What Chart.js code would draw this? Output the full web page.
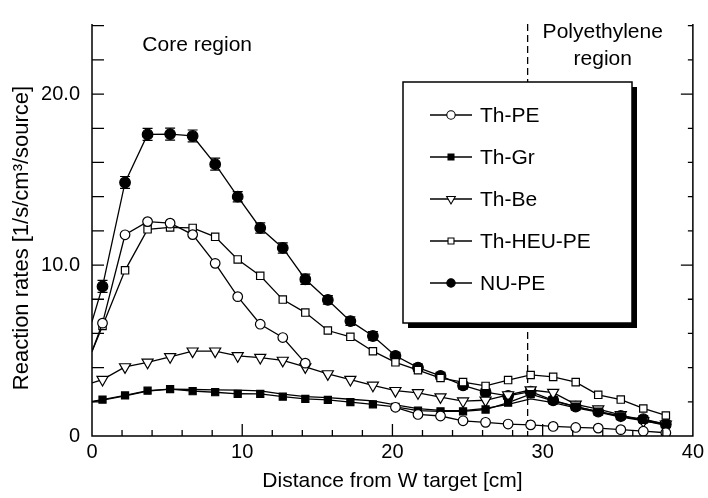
<!DOCTYPE html>
<html>
<head>
<meta charset="utf-8">
<script src="https://cdn.jsdelivr.net/npm/chart.js@4.4.1/dist/chart.umd.min.js"></script>
<style>
  html, body { margin: 0; padding: 0; background: #fff; }
  #wrap { width: 708px; height: 498px; }
</style>
</head>
<body>
<div id="wrap"><canvas id="rates" width="708" height="498"></canvas></div>
<script>
// Distance from the W target [cm]; the 0 entry is where each curve meets the axis
const distance = [0, 0.7, 2.2, 3.7, 5.2, 6.7, 8.2, 9.7, 11.2, 12.7, 14.2, 15.7, 17.2, 18.7,
    20.2, 21.7, 23.2, 24.7, 26.2, 27.7, 29.2, 30.7, 32.2, 33.7, 35.2, 36.7, 38.2];

// Reaction rates [1/s/cm3/source]
const thPE = [4.95, 6.6, 11.77, 12.54, 12.45, 11.78, 10.1, 8.15, 6.54, 5.76, 4.26, null, null, null,
    1.68, 1.26, 1.17, 0.89, 0.8, 0.7, 0.65, 0.56, 0.5, 0.46, 0.37, 0.28, 0.19];
const thGr = [2.03, 2.13, 2.37, 2.65, 2.74, 2.62, 2.56, 2.47, 2.46, 2.3, 2.17, 2.11, 1.98, 1.85,
    1.7, 1.48, 1.44, 1.44, 1.55, 1.95, 2.45, 2.05, 1.72, 1.42, 1.15, 0.95, 0.68];
const thBe = [3.1, 3.3, 4.04, 4.31, 4.63, 4.96, 4.96, 4.69, 4.59, 4.42, 4.04, 3.63, 3.3, 2.96,
    2.65, 2.52, 2.28, 2.04, 2.09, 2.4, 2.69, 2.54, 1.85, 1.57, 1.24, 0.87, 0.69];
const thHEUPE = [4.95, 6.44, 9.69, 12.09, 12.2, 12.17, 11.65, 10.33, 9.37, 7.98, 7.22, 6.17, 5.8, 4.96,
    4.31, 3.85, 3.39, 3.15, 2.93, 3.27, 3.57, 3.46, 3.15, 2.41, 2.13, 1.61, 1.2];
const nuPE = [6.7, 8.75, 14.83, 17.64, 17.66, 17.55, 15.9, 14.0, 12.17, 11.0, 9.17, 7.96, 6.72, 5.85,
    4.69, 4.0, 3.52, 2.96, 2.56, 2.35, 2.59, 2.09, 1.72, 1.43, 1.17, 0.98, 0.69];
const nuPEErr = [0, 0.35, 0.35, 0.35, 0.35, 0.35, 0.35, 0.3, 0.3, 0.3, 0.3, 0.25, 0.25, 0.25,
    0.2, 0.2, 0.2, 0.2, 0.2, 0.2, 0.2, 0.2, 0.2, 0.2, 0.2, 0.2, 0.2];
// Unmarked solid curve running along the Th-Gr points
const thGrLine = [2.0, 2.1, 2.35, 2.62, 2.74, 2.72, 2.7, 2.68, 2.64, 2.45, 2.3, 2.25, 2.15, 2.05,
    1.82, 1.6, 1.5, 1.48, 1.62, 1.85, 2.17, 1.95, 1.65, 1.4, 1.1, 0.9, 0.62];

const xTickLabels = [0, 10, 20, 30, 40];
const yTickLabels = { 0: '0', 10: '10.0', 20: '20.0' };
const boundaryCm = 29;   // core / polyethylene boundary

const FONT = '"Liberation Sans", Arial, Helvetica, sans-serif';

const toPoints = (values) => distance.map((x, i) => ({ x, y: values[i] }));
// no marker on the axis end point
const markerSize = (r) => (ctx) => distance[ctx.dataIndex] === 0 ? 0 : r;

function series(label, values, style, radius, fill, rotation) {
    return {
        label,
        data: toPoints(values),
        borderColor: '#000',
        borderWidth: 1.3,
        backgroundColor: fill,
        pointStyle: style,
        pointRotation: rotation || 0,
        pointRadius: markerSize(radius),
        pointBorderWidth: 1.2,
        pointBorderColor: '#000',
        pointBackgroundColor: fill,
        tension: 0,
        spanGaps: false,
        showLine: true
    };
}

const datasets = [
    series('Th-PE', thPE, 'circle', 4.8, '#fff'),
    series('Th-Gr', thGr, 'rect', 5, '#000'),
    series('Th-Be', thBe, 'triangle', 6.4, '#fff', 180),
    series('Th-HEU-PE', thHEUPE, 'rect', 5.2, '#fff'),
    series('NU-PE', nuPE, 'circle', 5.3, '#000'),
    Object.assign(series('', thGrLine, 'circle', 0, '#000'), { pointRadius: 0 })
];

// Frame, inward ticks, boundary line, error bars, titles, region labels and boxed legend
const frameDecor = {
    id: 'frameDecor',
    beforeDatasetsDraw(chart) {
        const { ctx, chartArea: a, scales: { x, y } } = chart;
        ctx.save();
        ctx.strokeStyle = '#000';
        ctx.lineWidth = 1.3;
        ctx.setLineDash([7, 4]);
        const bx = x.getPixelForValue(boundaryCm);
        ctx.beginPath();
        ctx.moveTo(bx, a.top);
        ctx.lineTo(bx, a.bottom);
        ctx.stroke();
        ctx.setLineDash([]);

        ctx.lineWidth = 1.2;
        nuPEErr.forEach((e, i) => {
            if (!e) return;
            const px = x.getPixelForValue(distance[i]);
            const lo = y.getPixelForValue(nuPE[i] - e);
            const hi = y.getPixelForValue(nuPE[i] + e);
            ctx.beginPath();
            ctx.moveTo(px, lo); ctx.lineTo(px, hi);
            ctx.moveTo(px - 5, lo); ctx.lineTo(px + 5, lo);
            ctx.moveTo(px - 5, hi); ctx.lineTo(px + 5, hi);
            ctx.stroke();
        });
        ctx.restore();
    },
    afterDraw(chart) {
        const { ctx, chartArea: a, scales: { x, y } } = chart;
        ctx.save();
        ctx.strokeStyle = '#000';
        ctx.lineWidth = 1.5;
        ctx.beginPath();
        ctx.moveTo(a.left, a.top);
        ctx.lineTo(a.left, a.bottom);
        ctx.lineTo(a.right, a.bottom);
        ctx.lineTo(a.right, a.top);
        ctx.stroke();

        ctx.lineWidth = 1.3;
        ctx.beginPath();
        for (let v = 2; v <= 24; v += 2) {
            const py = y.getPixelForValue(v);
            ctx.moveTo(a.left, py); ctx.lineTo(a.left + 12, py);
            ctx.moveTo(a.right, py); ctx.lineTo(a.right - (v % 10 === 0 ? 12 : 5), py);
        }
        for (let c = 2; c < 40; c += 2) {
            const px = x.getPixelForValue(c);
            ctx.moveTo(px, a.bottom); ctx.lineTo(px, a.bottom - (c % 10 === 0 ? 12 : 6));
        }
        ctx.stroke();

        // y axis title, sitting lower than the axis middle as in the source figure
        ctx.fillStyle = '#000';
        ctx.save();
        ctx.translate(22, 238);
        ctx.rotate(-Math.PI / 2);
        ctx.font = '22px ' + FONT;
        ctx.textAlign = 'center';
        ctx.textBaseline = 'middle';
        ctx.fillText('Reaction rates [1/s/cm\u00B3/source]', 0, 0);
        ctx.restore();

        // region labels
        ctx.font = '21px ' + FONT;
        ctx.textAlign = 'center';
        ctx.textBaseline = 'middle';
        ctx.fillText('Core region', x.getPixelForValue(7), 45);
        ctx.fillText('Polyethylene', x.getPixelForValue(34), 32);
        ctx.fillText('region', x.getPixelForValue(34), 59);

        // legend box with drop shadow
        const box = { left: 403, top: 82, right: 632, bottom: 323 };
        ctx.fillStyle = '#000';
        ctx.fillRect(box.left + 5, box.top + 5, box.right - box.left, box.bottom - box.top);
        ctx.fillStyle = '#fff';
        ctx.fillRect(box.left, box.top, box.right - box.left, box.bottom - box.top);
        ctx.lineWidth = 1.5;
        ctx.strokeRect(box.left, box.top, box.right - box.left, box.bottom - box.top);

        ctx.textAlign = 'left';
        chart.data.datasets.filter(d => d.label).forEach((d, i) => {
            const ly = 115 + i * 42;
            ctx.strokeStyle = '#000';
            ctx.lineWidth = 1.3;
            ctx.beginPath();
            ctx.moveTo(430, ly); ctx.lineTo(472, ly);
            ctx.stroke();
            ctx.fillStyle = d.pointBackgroundColor;
            ctx.lineWidth = 1.1;
            Chart.helpers.drawPoint(ctx, {
                pointStyle: d.pointStyle,
                rotation: d.pointRotation,
                radius: d.pointStyle === 'triangle' ? 5 : 4.2,
                borderWidth: 1.1
            }, 451, ly);
            ctx.fillStyle = '#000';
            ctx.fillText(d.label, 480, ly + 1);
        });
        ctx.restore();
    }
};

new Chart(document.getElementById('rates').getContext('2d'), {
    type: 'scatter',
    data: { datasets },
    options: {
        responsive: false,
        animation: false,
        devicePixelRatio: 1,
        layout: { padding: { top: 0, right: 11, left: 0, bottom: 0 } },
        plugins: {
            legend: { display: false },
            tooltip: { enabled: false }
        },
        scales: {
            x: {
                type: 'linear',
                min: 0,
                max: 40,
                afterFit: (scale) => { scale.height = 62; },
                afterBuildTicks: (scale) => { scale.ticks = xTickLabels.map(v => ({ value: v })); },
                grid: { display: false, drawTicks: false },
                border: { display: false },
                ticks: {
                    padding: 4,
                    color: '#000',
                    font: { family: FONT, size: 20 },
                    callback: (v) => String(v)
                },
                title: {
                    display: true,
                    text: 'Distance from W target [cm]',
                    color: '#000',
                    font: { family: FONT, size: 21 },
                    padding: { top: 0, bottom: 4 }
                }
            },
            y: {
                type: 'linear',
                min: 0,
                max: 24.1,
                afterFit: (scale) => { scale.width = 92; },
                afterBuildTicks: (scale) => {
                    scale.ticks = Object.keys(yTickLabels).map(v => ({ value: Number(v) }));
                },
                grid: { display: false, drawTicks: false },
                border: { display: false },
                ticks: {
                    padding: 12,
                    color: '#000',
                    font: { family: FONT, size: 20 },
                    callback: (v) => yTickLabels[v]
                }
            }
        }
    },
    plugins: [frameDecor]
});
</script>
</body>
</html>
